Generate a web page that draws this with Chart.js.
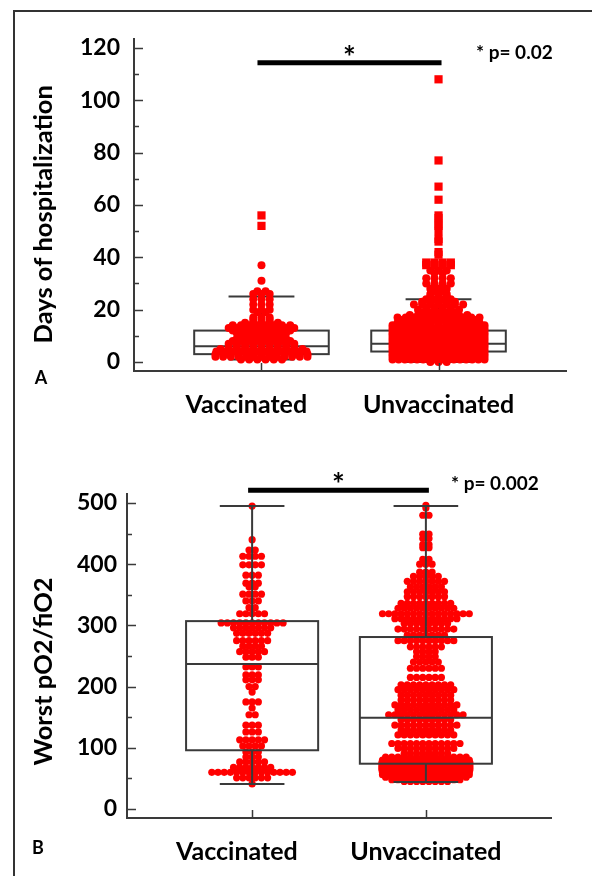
<!DOCTYPE html>
<html>
<head>
<meta charset="utf-8">
<script src="https://cdn.jsdelivr.net/npm/chart.js@4.4.1/dist/chart.umd.min.js"></script>
<style>
  html, body { margin: 0; padding: 0; background: #fff; overflow: hidden; }
  #page { position: relative; width: 592px; height: 876px; overflow: hidden; }
  #frame { position: absolute; left: 13px; top: 10px; width: 700px; height: 900px;
           border-left: 2px solid #333; border-top: 2px solid #333; }
  canvas { position: absolute; left: 0; }
  #chartA { top: 0; }
  #chartB { top: 440px; }
</style>
</head>
<body>
<div id="page">
  <div id="frame"></div>
  <canvas id="chartA" width="592" height="440"></canvas>
  <canvas id="chartB" width="592" height="436"></canvas>
</div>
<script>
const groups = ['Vaccinated     ', 'Unvaccinated'];

// days of hospitalization, [days, number of patients]
const daysVaccinated = [
  [1, 6], [2, 13], [3, 13], [4, 12], [5, 11], [6, 9], [7, 9], [8, 8], [9, 7], [10, 6],
  [11, 7], [12, 8], [13, 9], [14, 8], [15, 5], [16, 3], [17, 3], [19, 2], [20, 3], [22, 3],
  [24, 3], [26, 3], [27, 2], [31, 1], [37, 1], [52, 1], [56, 1]
];
const daysUnvaccinated = [
  [0, 3], [1, 16], [2, 24], [3, 30], [4, 32], [5, 32], [6, 30], [7, 28], [8, 25], [9, 22],
  [10, 20], [11, 17], [12, 15], [13, 14], [14, 13], [15, 11], [16, 10], [17, 11], [18, 8],
  [19, 5], [20, 6], [21, 4], [22, 7], [23, 5], [24, 4], [25, 3], [26, 3], [27, 2], [28, 3],
  [29, 2], [30, 4], [32, 4], [34, 2], [35, 3], [37, 4], [38, 4], [41, 1], [42, 1], [46, 1],
  [47, 1], [50, 1], [52, 1], [53, 1], [55, 1], [56, 1], [62, 1], [67, 1], [77, 1], [108, 1]
];
const daysQ1 = [3, 4];
const daysMedian = [6, 7];
const daysQ3 = [12, 12];
const daysLow = [1, 0];
const daysHigh = [25, 24];
const daysTicks = [0, 10, 20, 30, 40, 50, 60, 70, 80, 90, 100, 110, 120];

// worst pO2/fiO2, [value, number of patients]
const pfVaccinated = [
  [495, 1], [440, 1], [423, 2], [413, 4], [399, 4], [382, 3], [369, 3], [363, 2], [351, 4],
  [340, 3], [329, 2], [319, 5], [304, 11], [296, 7], [287, 6], [275, 6], [266, 4], [257, 5],
  [248, 3], [232, 3], [219, 3], [211, 3], [200, 2], [191, 1], [175, 3], [165, 1], [154, 2],
  [137, 3], [126, 3], [113, 5], [103, 4], [93, 3], [85, 3], [77, 5], [68, 7], [60, 14],
  [51, 6], [41, 1]
];
const pfUnvaccinated = [
  [496, 1], [492, 1], [480, 2], [449, 2], [442, 2], [432, 2], [427, 2], [408, 2], [400, 3],
  [387, 3], [380, 5], [372, 7], [363, 6], [355, 7], [347, 7], [336, 9], [328, 10], [319, 15],
  [311, 11], [303, 8], [294, 10], [284, 7], [275, 10], [265, 6], [257, 4], [249, 4], [240, 5],
  [230, 6], [215, 6], [203, 9], [195, 10], [186, 9], [178, 9], [170, 11], [162, 10],
  [154, 13], [146, 9], [137, 11], [129, 9], [121, 10], [107, 12], [99, 10], [91, 8],
  [85, 14], [80, 15], [76, 16], [72, 16], [68, 16], [64, 16], [60, 15], [56, 15], [52, 14],
  [48, 12], [45, 8]
];
const pfQ1 = [96, 74];
const pfMedian = [237, 149];
const pfQ3 = [307, 281];
const pfLow = [41, 44];
const pfHigh = [495, 495];
const pfTicks = [0, 50, 100, 150, 200, 250, 300, 350, 400, 450, 500];

const RED = 'rgb(255, 0, 0)';
const LINE = '#3a3a3a';
const FONT = 'Lato';
const X_MIN = 0.28, X_MAX = 2.72;

// spread patients with the same value side by side
function swarm(rows, group, pxPerUnit, spacing, maxHalf) {
  const pts = [];
  rows.forEach(([value, count]) => {
    const step = count > 1 ? Math.min(spacing, 2 * maxHalf / (count - 1)) : 0;
    for (let i = 0; i < count; i++) {
      pts.push({ x: group + (i - (count - 1) / 2) * step / pxPerUnit, y: value });
    }
  });
  return pts;
}

const boxPlugin = {
  id: 'boxes',
  beforeDatasetsDraw(chart, args, o) {
    if (!o.onTop) drawBoxes(chart, o);
  },
  afterDatasetsDraw(chart, args, o) {
    if (o.onTop) drawBoxes(chart, o);
    drawExtras(chart, o);
  }
};

function drawBoxes(chart, o) {
  const ctx = chart.ctx, xs = chart.scales.x, ys = chart.scales.y;
  ctx.save();
  ctx.strokeStyle = LINE;
  ctx.lineWidth = 2;
  o.q1.forEach((q1, i) => {
    const cx = xs.getPixelForValue(i + 1);
    const hw = xs.getPixelForValue(i + 1 + o.boxHalf) - cx;
    const cw = xs.getPixelForValue(i + 1 + o.capHalf) - cx;
    const y1 = ys.getPixelForValue(q1), y3 = ys.getPixelForValue(o.q3[i]);
    const ym = ys.getPixelForValue(o.median[i]);
    const yl = ys.getPixelForValue(o.low[i]), yh = ys.getPixelForValue(o.high[i]);
    ctx.beginPath();
    ctx.moveTo(cx, y3); ctx.lineTo(cx, yh);
    ctx.moveTo(cx, y1); ctx.lineTo(cx, yl);
    ctx.moveTo(cx - cw, yh); ctx.lineTo(cx + cw, yh);
    ctx.moveTo(cx - cw, yl); ctx.lineTo(cx + cw, yl);
    ctx.moveTo(cx - hw, ym); ctx.lineTo(cx + hw, ym);
    ctx.stroke();
    ctx.strokeRect(cx - hw, y3, 2 * hw, y1 - y3);
  });
  ctx.restore();
}

function drawExtras(chart, o) {
  const ctx = chart.ctx, xs = chart.scales.x, ys = chart.scales.y;
  const area = chart.chartArea;
  ctx.save();
  ctx.strokeStyle = LINE;
  ctx.lineWidth = 1.5;
  // inward tick marks
  ctx.beginPath();
  o.ticks.forEach(v => {
    const y = Math.round(ys.getPixelForValue(v)) + 0.5;
    const len = v % o.labelStep === 0 ? 9 : 5;
    ctx.moveTo(area.left, y); ctx.lineTo(area.left + len, y);
  });
  o.q1.forEach((q, i) => {
    const x = Math.round(xs.getPixelForValue(i + 1)) + 0.5;
    ctx.moveTo(x, area.bottom); ctx.lineTo(x, area.bottom - 8);
  });
  ctx.stroke();

  // significance bar
  const x1 = xs.getPixelForValue(1) - 4, x2 = xs.getPixelForValue(2) + 3;
  const yb = ys.getPixelForValue(o.sigValue);
  ctx.strokeStyle = '#000';
  ctx.lineWidth = 5;
  ctx.beginPath();
  ctx.moveTo(x1, yb); ctx.lineTo(x2, yb);
  ctx.stroke();

  ctx.fillStyle = '#000';
  ctx.font = 'bold 30px ' + FONT;
  ctx.textAlign = 'center';
  ctx.textBaseline = 'alphabetic';
  ctx.fillText('*', (x1 + x2) / 2, yb + 5);

  ctx.font = 'bold 19px ' + FONT;
  ctx.textAlign = 'left';
  ctx.fillText(o.pText, o.pX, o.pY);

  ctx.font = 'bold 18px ' + FONT;
  ctx.textAlign = 'center';
  ctx.textBaseline = 'middle';
  ctx.fillText(o.letter, o.letterX, o.letterY);
  ctx.restore();
}

function makeChart(id, cfg) {
  const pxPerUnit = (cfg.area.right - cfg.area.left) / (X_MAX - X_MIN);
  const datasets = cfg.series.map((rows, i) => ({
    data: swarm(rows, i + 1, pxPerUnit, cfg.spacing, cfg.maxHalf),
    backgroundColor: RED,
    borderWidth: 0,
    pointStyle: c => (c.raw && c.raw.y > cfg.q3[i] + 3 * (cfg.q3[i] - cfg.q1[i])) ? 'rect' : 'circle',
    pointRadius: c => (c.raw && c.raw.y > cfg.q3[i] + 3 * (cfg.q3[i] - cfg.q1[i])) ? 5.8 : cfg.radius
  }));
  const canvas = document.getElementById(id);
  const tickFont = { family: FONT, size: 23, weight: 'bold' };
  return new Chart(canvas.getContext('2d'), {
    type: 'scatter',
    data: { datasets },
    plugins: [boxPlugin],
    options: {
      responsive: false,
      animation: false,
      events: [],
      clip: false,
      layout: { padding: { left: 0, top: cfg.area.top, right: canvas.width - cfg.area.right, bottom: 0 } },
      plugins: {
        legend: { display: false },
        tooltip: { enabled: false },
        boxes: {
          q1: cfg.q1, q3: cfg.q3, median: cfg.median, low: cfg.low, high: cfg.high,
          boxHalf: 0.38, capHalf: 0.186, onTop: cfg.boxOnTop,
          ticks: cfg.ticks, labelStep: cfg.labelStep,
          sigValue: cfg.sigValue, pText: cfg.pText, pX: cfg.pX, pY: cfg.pY,
          letter: cfg.letter, letterX: cfg.letterX, letterY: cfg.letterY
        }
      },
      scales: {
        x: {
          type: 'linear', min: X_MIN, max: X_MAX,
          afterBuildTicks: s => { s.ticks = groups.map((g, i) => ({ value: i + 1 })); },
          afterFit: s => { s.height = canvas.height - cfg.area.bottom; },
          ticks: {
            callback: (v, i) => groups[i], font: { family: FONT, size: 25, weight: 'bold' },
            color: '#000', padding: 19, autoSkip: false, maxRotation: 0
          },
          grid: { display: false, drawTicks: false },
          border: { display: true, color: LINE, width: 2 }
        },
        y: {
          min: cfg.yMin, max: cfg.yMax,
          afterBuildTicks: s => { s.ticks = cfg.ticks.map(v => ({ value: v })); },
          afterFit: s => { s.width = cfg.area.left; },
          ticks: {
            callback: v => (v % cfg.labelStep === 0 ? v : ''), font: tickFont,
            color: '#000', padding: cfg.tickPad, autoSkip: false
          },
          grid: { display: false, drawTicks: false },
          border: { display: true, color: LINE, width: 2 },
          title: {
            display: true, text: cfg.title, color: '#000',
            font: { family: FONT, size: 25.5, weight: 'bold', lineHeight: 1 },
            padding: { top: 31, bottom: 0 }
          }
        }
      }
    }
  });
}

makeChart('chartA', {
  area: { left: 134, top: 39, right: 566, bottom: 371 },
  yMin: -3.44, yMax: 123.4, ticks: daysTicks, labelStep: 20, tickPad: 14,
  series: [daysVaccinated, daysUnvaccinated],
  q1: daysQ1, q3: daysQ3, median: daysMedian, low: daysLow, high: daysHigh,
  spacing: 8.2, maxHalf: 46, radius: 4, boxOnTop: false,
  title: 'Days of hospitalization   ',
  sigValue: 114.3, pText: '* p= 0.02', pX: 476, pY: 59,
  letter: 'A', letterX: 41, letterY: 378
});

makeChart('chartB', {
  area: { left: 127, top: 54, right: 551, bottom: 378 },
  yMin: -14.7, yMax: 514.7, ticks: pfTicks, labelStep: 100, tickPad: 10,
  series: [pfVaccinated, pfUnvaccinated],
  q1: pfQ1, q3: pfQ3, median: pfMedian, low: pfLow, high: pfHigh,
  spacing: 6.2, maxHalf: 44, radius: 3.6, boxOnTop: true,
  title: 'Worst pO2/fiO2     ',
  sigValue: 521, pText: '* p= 0.002', pX: 451, pY: 50,
  letter: 'B', letterX: 38, letterY: 408
});
</script>
</body>
</html>
